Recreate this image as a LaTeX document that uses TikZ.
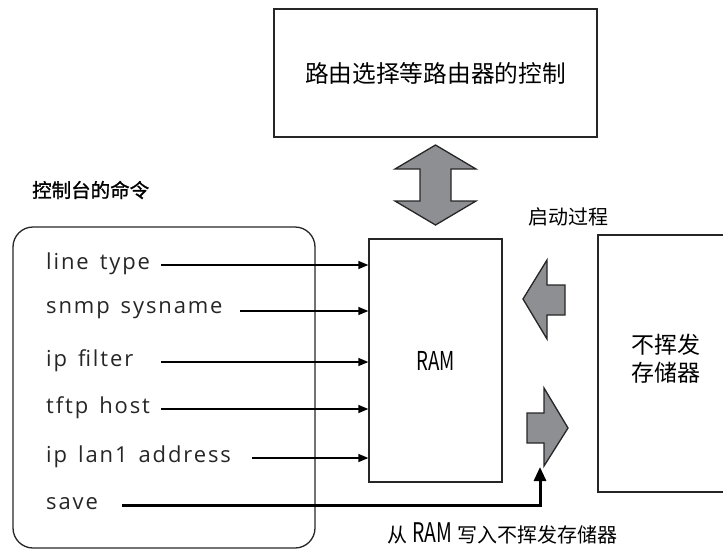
\documentclass[tikz,border=0pt]{standalone}
\usepackage{fontspec}
\newfontfamily\cjk{Noto Sans CJK SC}
\newfontfamily\cjkm[FakeBold=1.2]{Noto Sans CJK SC}
\newfontfamily\narrowfont[FakeStretch=0.72]{Noto Sans CJK SC}
\newfontfamily\cmdfont[LetterSpace=8.5,WordSpace=1.45]{Open Sans}
\usetikzlibrary{arrows.meta}
\definecolor{blockgray}{RGB}{142,143,147}
\tikzset{
  cmd/.style={anchor=west, inner sep=0pt, font=\cmdfont\fontsize{22}{26}\selectfont, text=black!85},
  cjklabel/.style={inner sep=0pt, font=\cjk\fontsize{20}{24}\selectfont},
  feed/.style={line width=1.3pt, -{Triangle[length=10pt,width=8pt]}},
  blockarrow/.style={draw=black!85, line width=1.3pt, fill=blockgray, line join=miter},
  boxline/.style={draw=black!85, line width=1.3pt}
}
\begin{document}
\begin{tikzpicture}[x=1pt,y=-1pt]
\useasboundingbox (0,0) rectangle (723,550);
\begin{scope}
\clip (0,0) rectangle (723,550);
% top control box
\node[boxline, minimum width=323pt, minimum height=128pt, inner sep=0pt,
      font=\cjk\fontsize{23.7}{28}\selectfont] (ctrl) at (435.5,73) {路由选择等路由器的控制};
% RAM box
\node[boxline, minimum width=133pt, minimum height=243pt, inner sep=0pt,
      font=\narrowfont\fontsize{26}{30}\selectfont] (ram) at (435.5,360.5) {RAM};
% non-volatile memory box (extends beyond right edge)
\draw[boxline] (598,235) rectangle (740,492);
\node[cjklabel, font=\cjk\fontsize{23}{28}\selectfont, align=center] (nvram) at (666,358.5) {不挥发\\存储器};
% console box
\draw[boxline, rounded corners=20pt] (13,227) rectangle (315,548);
\node[cjklabel, font=\cjkm\fontsize{19.5}{23}\selectfont, anchor=west] (contitle) at (32,190) {控制台的命令};
% double block arrow between control and RAM
\draw[blockarrow] (435.5,145) -- (476,169) -- (451,169) -- (451,201) -- (476,201)
  -- (435.5,225) -- (395,201) -- (420,201) -- (420,169) -- (395,169) -- cycle;
% boot arrow (from NVRAM to RAM)
\draw[blockarrow] (523,299) -- (547,260) -- (547,285) -- (565,285) -- (565,315)
  -- (547,315) -- (547,339) -- cycle;
\node[cjklabel, anchor=west] (boot) at (528,217) {启动过程};
% save arrow (from RAM to NVRAM)
\draw[blockarrow] (568,428) -- (544,388) -- (544,413) -- (527,413) -- (527,443)
  -- (544,443) -- (544,466) -- cycle;
\coordinate (savetip) at (540,467);
% commands
\node[cmd] (c1) at (46,264) {line type};
\node[cmd] (c2) at (46,310) {snmp sysname};
\node[cmd] (c3) at (46,361) {ip filter};
\node[cmd] (c4) at (46,408) {tftp host};
\node[cmd] (c5) at (46,457) {ip lan1 address};
\node[cmd] (c6) at (46,504) {save};
\coordinate (s1) at (161,265);
\coordinate (s2) at (240,311);
\coordinate (s3) at (161,362);
\coordinate (s4) at (161,409);
\coordinate (s5) at (252,458);
\coordinate (s6) at (122,505);
\draw[feed] (s1) -- (s1 -| ram.west);
\draw[feed] (s2) -- (s2 -| ram.west);
\draw[feed] (s3) -- (s3 -| ram.west);
\draw[feed] (s4) -- (s4 -| ram.west);
\draw[feed] (s5) -- (s5 -| ram.west);
\draw[line width=3pt, -{Triangle[length=14pt,width=12pt]}] (s6) -| (savetip);
\node[cjklabel, anchor=west] (savelabel) at (387,533) {从\hspace{5pt}{\narrowfont\fontsize{27}{30}\selectfont RAM}\hspace{5pt}写入不挥发存储器};
\end{scope}
\end{tikzpicture}
\end{document}
